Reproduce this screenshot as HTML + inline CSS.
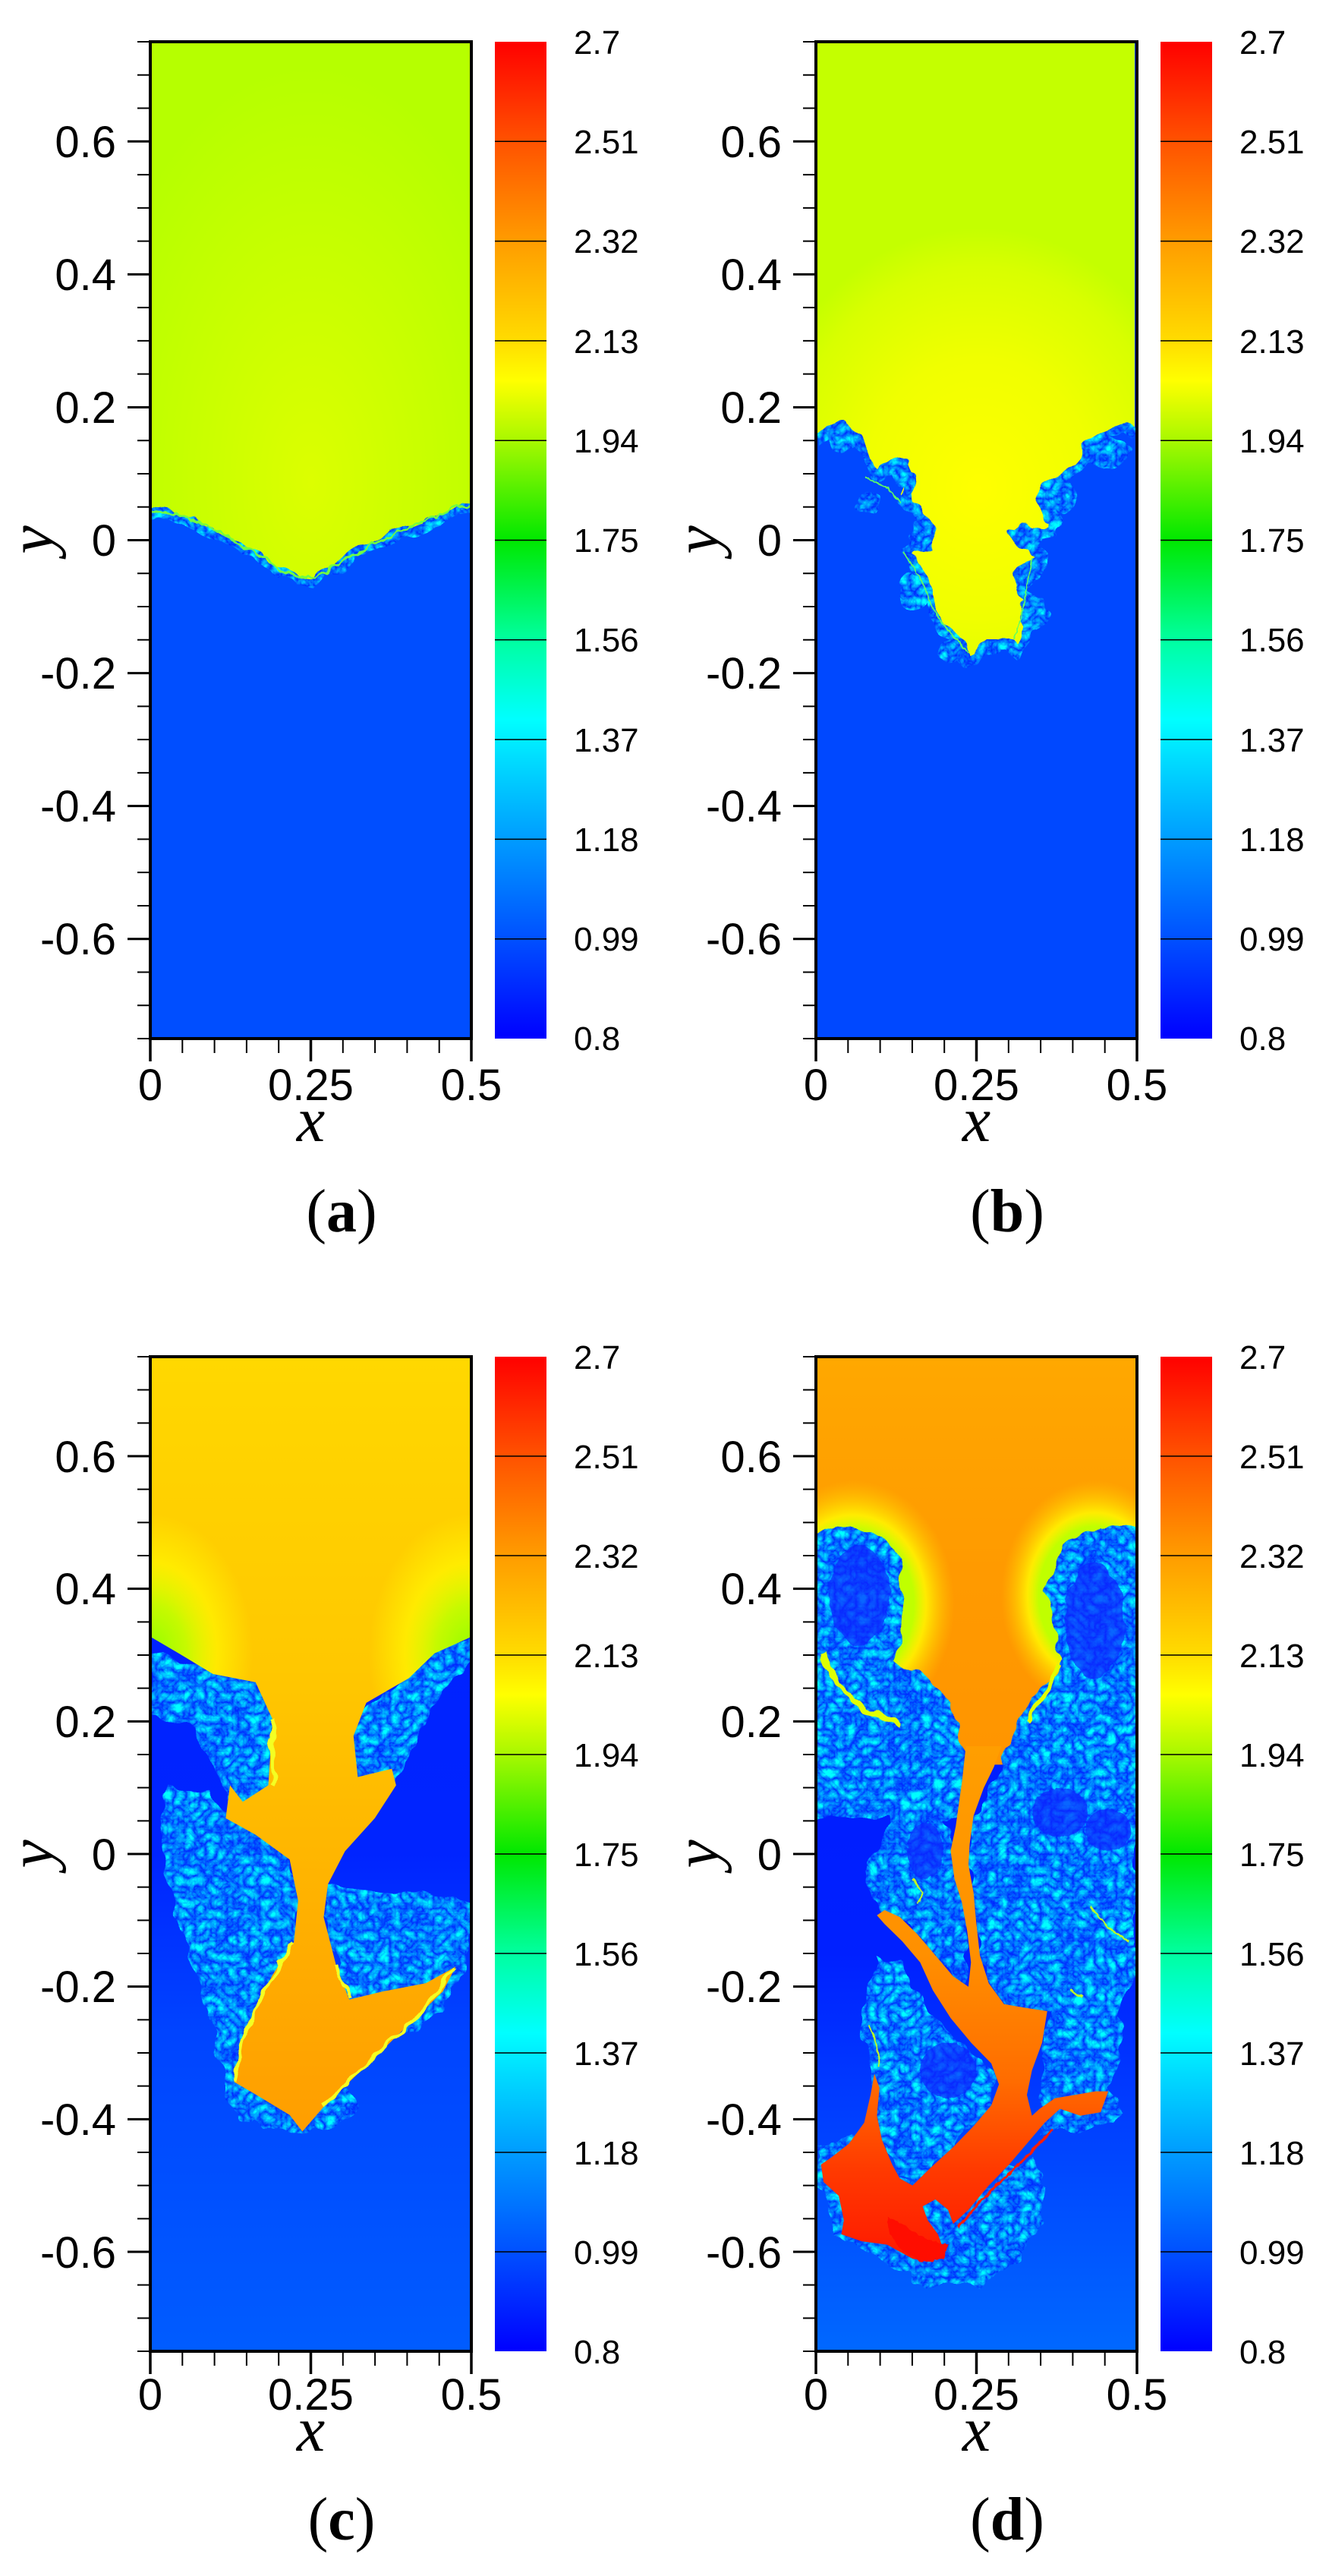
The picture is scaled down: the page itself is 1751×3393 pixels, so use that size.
<!DOCTYPE html>
<html><head><meta charset="utf-8"><style>
html,body{margin:0;padding:0;background:#fff}
svg{display:block}
text{font-family:"Liberation Sans",sans-serif;fill:#000}
.tk{font-size:58px}
.cb{font-size:44px}
.ax{font-family:"Liberation Serif",serif;font-style:italic;font-size:84px}
.cap{font-family:"Liberation Serif",serif;font-size:80px}
</style></head><body>
<svg width="1751" height="3393" viewBox="0 0 1751 3393" xmlns="http://www.w3.org/2000/svg">
<defs>
<linearGradient id="cbg" x1="0" y1="0" x2="0" y2="1">
<stop offset="0" stop-color="#ff0000"/><stop offset="0.1" stop-color="#ff5200"/><stop offset="0.2" stop-color="#ff9c00"/><stop offset="0.3" stop-color="#ffdc00"/><stop offset="0.34" stop-color="#ffff00"/><stop offset="0.4" stop-color="#a8f800"/><stop offset="0.5" stop-color="#00e800"/><stop offset="0.6" stop-color="#00ffa0"/><stop offset="0.68" stop-color="#00ffff"/><stop offset="0.72" stop-color="#00dcff"/><stop offset="0.8" stop-color="#009cff"/><stop offset="0.9" stop-color="#0050ff"/><stop offset="1" stop-color="#0000ff"/>
</linearGradient>
<clipPath id="clA"><rect x="198" y="55" width="423" height="1313"/></clipPath>
<clipPath id="clB"><rect x="1075" y="55" width="423" height="1313"/></clipPath>
<clipPath id="clC"><rect x="198" y="1787" width="423" height="1310"/></clipPath>
<clipPath id="clD"><rect x="1075" y="1787" width="423" height="1310"/></clipPath>
<filter id="mix" filterUnits="userSpaceOnUse" x="0" y="0" width="1751" height="3393" color-interpolation-filters="sRGB">
<feTurbulence type="fractalNoise" baseFrequency="0.035" numOctaves="2" seed="2" result="n"/>
<feDisplacementMap in="SourceGraphic" in2="n" scale="22" xChannelSelector="R" yChannelSelector="G" result="d"/>
<feTurbulence type="turbulence" baseFrequency="0.07" numOctaves="3" seed="5" result="t"/>
<feColorMatrix in="t" type="matrix" values="0 0 0 0 0  1.3 0 0 0 0.12  0 0 0 0 1  0 0 0 0 1" result="c"/>
<feComposite in="c" in2="d" operator="in"/>
</filter>
<filter id="rough" filterUnits="userSpaceOnUse" x="0" y="0" width="1751" height="3393">
<feTurbulence type="fractalNoise" baseFrequency="0.05" numOctaves="2" seed="9" result="n"/>
<feDisplacementMap in="SourceGraphic" in2="n" scale="12" xChannelSelector="R" yChannelSelector="G"/>
</filter>
<radialGradient id="gA" gradientUnits="userSpaceOnUse" cx="710" cy="600" r="520"><stop offset="0" stop-color="#dcff00"/><stop offset="1" stop-color="#b6ff00"/></radialGradient>
<radialGradient id="gB" gradientUnits="userSpaceOnUse" cx="690" cy="900" r="900"><stop offset="0" stop-color="#ffff00"/><stop offset="0.5" stop-color="#f0ff00"/><stop offset="0.85" stop-color="#d8ff00"/><stop offset="1" stop-color="#c4ff00"/></radialGradient>
<linearGradient id="gC" gradientUnits="userSpaceOnUse" x1="0" y1="80" x2="0" y2="1020"><stop offset="0" stop-color="#ffd800"/><stop offset="0.4" stop-color="#ffc800"/><stop offset="0.75" stop-color="#ffae00"/><stop offset="1" stop-color="#ff9e00"/></linearGradient>
<radialGradient id="hC" gradientUnits="userSpaceOnUse" cx="0" cy="0" r="1"><stop offset="0" stop-color="#90ff00"/><stop offset="0.35" stop-color="#c0ff00" stop-opacity="0.9"/><stop offset="0.65" stop-color="#ffff00" stop-opacity="0.6"/><stop offset="1" stop-color="#ffff00" stop-opacity="0"/></radialGradient>
<linearGradient id="gD" gradientUnits="userSpaceOnUse" x1="0" y1="80" x2="0" y2="600"><stop offset="0" stop-color="#ffa800"/><stop offset="0.5" stop-color="#ff9a00"/><stop offset="1" stop-color="#ff9400"/></linearGradient>
<radialGradient id="hD" gradientUnits="userSpaceOnUse" cx="0" cy="0" r="1"><stop offset="0.6" stop-color="#c0ff00"/><stop offset="0.72" stop-color="#ffff00" stop-opacity="0.8"/><stop offset="1" stop-color="#ffd000" stop-opacity="0"/></radialGradient>
<linearGradient id="gD2" gradientUnits="userSpaceOnUse" x1="0" y1="0" x2="0" y2="1480"><stop offset="0" stop-color="#ff9e00"/><stop offset="0.4" stop-color="#ff9000"/><stop offset="0.65" stop-color="#ff6c00"/><stop offset="0.82" stop-color="#ff3a00"/><stop offset="1" stop-color="#ff1800"/></linearGradient>
<linearGradient id="bgC" gradientUnits="userSpaceOnUse" x1="0" y1="1787" x2="0" y2="3097"><stop offset="0" stop-color="#0020ff"/><stop offset="0.5" stop-color="#0024ff"/><stop offset="0.68" stop-color="#0044ff"/><stop offset="1" stop-color="#005cff"/></linearGradient>
<linearGradient id="bgD" gradientUnits="userSpaceOnUse" x1="0" y1="1787" x2="0" y2="3097"><stop offset="0" stop-color="#0018ff"/><stop offset="0.6" stop-color="#0020ff"/><stop offset="0.8" stop-color="#0045ff"/><stop offset="1" stop-color="#0068ff"/></linearGradient>

<g id="axAB" fill="none" stroke="#000">
<path stroke-width="2" d="M-17,0h17m-17,43.767h17m-17,43.767h17m-17,43.767h17m-17,43.767h17m-17,43.767h17m-17,43.767h17m-17,43.767h17m-17,43.767h17m-17,43.767h17m-17,43.767h17m-17,43.767h17m-17,43.767h17m-17,43.767h17m-17,43.767h17m-17,43.767h17m-17,43.767h17m-17,43.767h17m-17,43.767h17m-17,43.767h17m-17,43.767h17m-17,43.767h17m-17,43.767h17m-17,43.767h17m-17,43.767h17m-17,43.767h17m-17,43.767h17m-17,43.767h17m-17,43.767h17m-17,43.767h17m-17,43.767h17"/>
<path stroke-width="3" d="M-30,131.3h30m-30,175.07h30m-30,175.07h30m-30,175.07h30m-30,175.07h30m-30,175.07h30m-30,175.07h30"/>
<path stroke-width="2" d="M0,1313v19m42.3,-19v19m42.3,-19v19m42.3,-19v19m42.3,-19v19m42.3,-19v19m42.3,-19v19m42.3,-19v19m42.3,-19v19m42.3,-19v19m42.3,-19v19"/>
<path stroke-width="3.5" d="M0,1313v30M211.5,1313v30M423,1313v30"/>
<rect x="0" y="0" width="423" height="1313" stroke-width="4"/>
<rect x="454" y="0" width="68" height="1313" fill="url(#cbg)" stroke="none"/>
<path stroke-width="1.5" d="M454,131.3h68m-68,131.3h68m-68,131.3h68m-68,131.3h68m-68,131.3h68m-68,131.3h68m-68,131.3h68m-68,131.3h68m-68,131.3h68"/>
</g>
<g id="axCD" fill="none" stroke="#000">
<path stroke-width="2" d="M-17,0h17m-17,43.667h17m-17,43.667h17m-17,43.667h17m-17,43.667h17m-17,43.667h17m-17,43.667h17m-17,43.667h17m-17,43.667h17m-17,43.667h17m-17,43.667h17m-17,43.667h17m-17,43.667h17m-17,43.667h17m-17,43.667h17m-17,43.667h17m-17,43.667h17m-17,43.667h17m-17,43.667h17m-17,43.667h17m-17,43.667h17m-17,43.667h17m-17,43.667h17m-17,43.667h17m-17,43.667h17m-17,43.667h17m-17,43.667h17m-17,43.667h17m-17,43.667h17m-17,43.667h17m-17,43.667h17"/>
<path stroke-width="3" d="M-30,131h30m-30,174.67h30m-30,174.67h30m-30,174.67h30m-30,174.67h30m-30,174.67h30m-30,174.67h30"/>
<path stroke-width="2" d="M0,1310v19m42.3,-19v19m42.3,-19v19m42.3,-19v19m42.3,-19v19m42.3,-19v19m42.3,-19v19m42.3,-19v19m42.3,-19v19m42.3,-19v19m42.3,-19v19"/>
<path stroke-width="3.5" d="M0,1310v30M211.5,1310v30M423,1310v30"/>
<rect x="0" y="0" width="423" height="1310" stroke-width="4"/>
<rect x="454" y="0" width="68" height="1310" fill="url(#cbg)" stroke="none"/>
<path stroke-width="1.5" d="M454,131h68m-68,131h68m-68,131h68m-68,131h68m-68,131h68m-68,131h68m-68,131h68m-68,131h68m-68,131h68"/>
</g>
</defs>
<rect width="1751" height="3393" fill="#fff"/>

<!-- ============ PANEL A ============ -->
<g clip-path="url(#clA)">
<rect x="198" y="55" width="423" height="1313" fill="#004eff"/>
<g transform="scale(0.5769,1.0577)">
<path fill="url(#gA)" d="M343,52H1077V630L1050,632L1000,645L950,655L900,668L850,680L800,695L760,708L720,722L680,720L640,712L600,695L560,685L520,670L480,658L440,650L400,642L343,640Z"/>
</g>
<g filter="url(#mix)"><g transform="scale(0.5769,1.0577)">
<path fill="none" stroke="#000" stroke-width="13" d="M343,642L400,644L440,652L480,660L520,672L560,687L600,697L640,714L680,722L720,724L760,710L800,697L850,682L900,670L950,657L1000,647L1050,634L1077,632"/>
</g></g>
<g transform="scale(0.5769,1.0577)" filter="url(#rough)">
<path fill="none" stroke="#70ff40" stroke-width="3" d="M343,636L400,640L440,648L480,656L520,668L560,682L600,693L640,710L680,718L720,720L760,706L800,693L850,678L900,666L950,653L1000,643L1050,630L1077,628"/>
</g>
</g>
<g transform="translate(198,55)">
<use href="#axAB"/>
<g class="tk" text-anchor="end"><text x="-45" y="152">0.6</text><text x="-45" y="327">0.4</text><text x="-45" y="502">0.2</text><text x="-45" y="677">0</text><text x="-45" y="852">-0.2</text><text x="-45" y="1027">-0.4</text><text x="-45" y="1202">-0.6</text></g>
<g class="tk" text-anchor="middle"><text x="0" y="1394">0</text><text x="211.5" y="1394">0.25</text><text x="423" y="1394">0.5</text></g>
<g class="cb"><text x="558" y="16">2.7</text><text x="558" y="147">2.51</text><text x="558" y="278">2.32</text><text x="558" y="410">2.13</text><text x="558" y="541">1.94</text><text x="558" y="672">1.75</text><text x="558" y="803">1.56</text><text x="558" y="935">1.37</text><text x="558" y="1066">1.18</text><text x="558" y="1197">0.99</text><text x="558" y="1328">0.8</text></g>
<text class="ax" x="211.5" y="1448" text-anchor="middle">x</text>
<text class="ax" transform="translate(-129,656) rotate(-90)" text-anchor="middle">y</text>
<text class="cap" x="252" y="1567" text-anchor="middle">(<tspan font-weight="bold">a</tspan>)</text>
</g>

<!-- ============ PANEL B ============ -->
<g clip-path="url(#clB)">
<rect x="1075" y="55" width="423" height="1313" fill="#0048ff"/>
<g transform="translate(1060,300) scale(0.3333,0.3817)">
<path fill="url(#gB)" d="M45,-642H1305V690L1260,680L1200,700L1140,740L1100,790L1040,850L990,880L950,900L920,940L940,980L990,1010L980,1040L900,1040L850,1030L820,1050L830,1080L880,1100L930,1130L920,1160L860,1170L830,1200L850,1240L900,1270L920,1300L880,1350L860,1420L840,1460L800,1430L760,1420L720,1420L690,1440L680,1480L650,1490L620,1460L580,1420L540,1380L500,1330L480,1260L450,1210L420,1160L400,1120L430,1090L480,1090L490,1040L450,990L410,960L380,920L400,880L420,840L400,800L360,800L320,830L300,850L260,820L240,780L200,720L150,690L100,690L45,720Z"/>
</g>
<g filter="url(#mix)"><g transform="translate(1060,300) scale(0.3333,0.3817)">
<path fill="none" stroke="#000" stroke-width="40" stroke-linejoin="round" d="M45,730L100,700L150,700L200,730L240,790L260,830L300,860L320,840L360,810L400,810L420,850L400,890L390,920L420,960L460,990L495,1040L480,1100L430,1100L410,1120L430,1160L460,1210L490,1260L510,1330L550,1380L590,1420L630,1460L650,1500L690,1490L700,1450L730,1430L760,1430L800,1440L840,1470L870,1420L890,1350L930,1300L910,1270L860,1240L840,1200L870,1180L930,1170L940,1130L890,1100L840,1080L830,1050L860,1040L900,1050L990,1050L1000,1010L950,980L930,940L960,905L1000,885L1050,855L1110,795L1150,745L1210,705L1260,690L1305,700"/>
<g fill="#000"><ellipse cx="150" cy="730" rx="60" ry="45"/><ellipse cx="380" cy="840" rx="40" ry="50"/><ellipse cx="460" cy="1050" rx="45" ry="50"/><ellipse cx="250" cy="950" rx="55" ry="35"/><ellipse cx="880" cy="1070" rx="60" ry="35"/><ellipse cx="880" cy="1195" rx="55" ry="35"/><ellipse cx="1010" cy="935" rx="80" ry="50"/><ellipse cx="1190" cy="770" rx="100" ry="45"/><ellipse cx="430" cy="1260" rx="50" ry="70"/><ellipse cx="900" cy="1330" rx="50" ry="60"/><ellipse cx="590" cy="1450" rx="50" ry="40"/><ellipse cx="740" cy="1450" rx="40" ry="30"/></g>
</g></g>
<g transform="translate(1060,300) scale(0.3333,0.3817)" filter="url(#rough)" fill="none" stroke="#60ff60" stroke-width="5">
<path d="M390,1120L430,1170L470,1230L500,1300L540,1360L600,1420L650,1470"/><path d="M900,1140L880,1230L860,1330L830,1420"/><path d="M240,860L330,900L380,950"/>
</g>
</g>
<g transform="translate(1075,55)">
<use href="#axAB"/>
<g class="tk" text-anchor="end"><text x="-45" y="152">0.6</text><text x="-45" y="327">0.4</text><text x="-45" y="502">0.2</text><text x="-45" y="677">0</text><text x="-45" y="852">-0.2</text><text x="-45" y="1027">-0.4</text><text x="-45" y="1202">-0.6</text></g>
<g class="tk" text-anchor="middle"><text x="0" y="1394">0</text><text x="211.5" y="1394">0.25</text><text x="423" y="1394">0.5</text></g>
<g class="cb"><text x="558" y="16">2.7</text><text x="558" y="147">2.51</text><text x="558" y="278">2.32</text><text x="558" y="410">2.13</text><text x="558" y="541">1.94</text><text x="558" y="672">1.75</text><text x="558" y="803">1.56</text><text x="558" y="935">1.37</text><text x="558" y="1066">1.18</text><text x="558" y="1197">0.99</text><text x="558" y="1328">0.8</text></g>
<text class="ax" x="211.5" y="1448" text-anchor="middle">x</text>
<text class="ax" transform="translate(-129,656) rotate(-90)" text-anchor="middle">y</text>
<text class="cap" x="252" y="1567" text-anchor="middle">(<tspan font-weight="bold">b</tspan>)</text>
</g>

<!-- ============ PANEL C ============ -->
<clipPath id="orC"><path transform="translate(0,1700) scale(1.1223,1.0858)" d="M177,80H553V420L510,440L480,470L430,500L415,540L420,590L460,580L465,600L440,640L405,680L385,720L380,760L395,820L410,860L450,850L500,840L535,820L520,850L490,880L450,920L410,960L380,990L355,1020L340,1000L300,975L275,960L285,910L300,870L320,830L345,790L350,740L340,690L300,660L265,640L270,600L285,620L315,600L320,520L300,475L250,465L210,440L177,420Z"/></clipPath>
<g clip-path="url(#clC)">
<rect x="198" y="1787" width="423" height="1310" fill="url(#bgC)"/>
<g filter="url(#mix)"><g transform="translate(0,1700) scale(1.1223,1.0858)" fill="#000">
<path d="M177,440L210,445L250,460L300,470L322,520L320,600L300,628L270,625L258,590L245,560L225,530L200,520L177,515Z"/>
<path d="M553,420L520,430L490,450L470,480L430,500L412,540L418,595L440,610L465,595L482,560L500,520L520,485L553,450Z"/>
<path d="M195,598L240,612L290,648L332,680L352,720L352,800L322,842L302,882L292,930L288,962L275,980L258,942L248,880L232,830L212,780L198,720L188,660Z"/>
<path d="M378,718L420,728L450,732L500,732L553,745L553,785L540,832L520,872L480,895L440,912L408,902L398,860L392,810L383,770Z"/>
<ellipse cx="350" cy="985" rx="70" ry="35"/>
<ellipse cx="290" cy="960" rx="25" ry="50"/>
</g></g>
<g clip-path="url(#orC)">
<g transform="translate(0,1700) scale(1.1223,1.0858)">
<rect x="177" y="80" width="376" height="960" fill="url(#gC)"/>
<g transform="translate(177,440) scale(120,170)"><circle r="1" fill="url(#hC)"/></g>
<g transform="translate(553,440) scale(120,170)"><circle r="1" fill="url(#hC)"/></g>
</g>
</g>
<g transform="translate(0,1700) scale(1.1223,1.0858)" filter="url(#rough)" fill="none" stroke="#f4ff20" stroke-width="4">
<path d="M320,520L320,600M345,790L320,830L300,870L285,910L275,960M395,820L410,860M535,820L490,880L450,920L410,960L380,990"/>
</g>
</g>
<g transform="translate(198,1787)">
<use href="#axCD"/>
<g class="tk" text-anchor="end"><text x="-45" y="152">0.6</text><text x="-45" y="326">0.4</text><text x="-45" y="501">0.2</text><text x="-45" y="676">0</text><text x="-45" y="850">-0.2</text><text x="-45" y="1025">-0.4</text><text x="-45" y="1200">-0.6</text></g>
<g class="tk" text-anchor="middle"><text x="0" y="1387">0</text><text x="211.5" y="1387">0.25</text><text x="423" y="1387">0.5</text></g>
<g class="cb"><text x="558" y="16">2.7</text><text x="558" y="147">2.51</text><text x="558" y="278">2.32</text><text x="558" y="409">2.13</text><text x="558" y="540">1.94</text><text x="558" y="671">1.75</text><text x="558" y="802">1.56</text><text x="558" y="933">1.37</text><text x="558" y="1064">1.18</text><text x="558" y="1195">0.99</text><text x="558" y="1326">0.8</text></g>
<text class="ax" x="211.5" y="1441" text-anchor="middle">x</text>
<text class="ax" transform="translate(-129,655) rotate(-90)" text-anchor="middle">y</text>
<text class="cap" x="252" y="1558" text-anchor="middle">(<tspan font-weight="bold">c</tspan>)</text>
</g>

<!-- ============ PANEL D ============ -->
<g clip-path="url(#clD)">
<rect x="1075" y="1787" width="423" height="1310" fill="url(#bgD)"/>
<g transform="translate(0,1700) scale(1.118,1.0858)">
<rect x="950" y="75" width="400" height="500" fill="url(#gD)"/>
<g transform="translate(1005,380) scale(120,150)"><circle r="1" fill="url(#hD)"/></g>
<g transform="translate(1290,370) scale(110,140)"><circle r="1" fill="url(#hD)"/></g>
</g>
<g filter="url(#mix)">
<g transform="translate(0,1700) scale(1.118,1.0858)" fill="#000">
<path d="M955,292L1000,283L1040,295L1062,330L1065,400L1050,445L1075,462L1110,482L1130,530L1140,580L1142,640L955,640Z"/>
<path d="M1345,292L1290,285L1250,310L1232,370L1245,430L1255,447L1210,500L1182,560L1165,640L1345,640Z"/>
</g>
<g transform="translate(1075,2300) scale(0.3349,0.4592)" fill="#000">
<path d="M100,20L300,80L450,150L530,250L560,330L590,500L600,690L540,660L400,540L330,490L250,470L200,400L180,360L260,280L300,220L200,150L100,100Z"/>
<path d="M600,220L700,100L850,20L1000,40L1260,20L1260,660L1200,720L1200,850L1180,950L1140,1010L960,1020L880,1010L900,850L910,760L820,750L740,740L680,680L645,600L620,420L600,340Z"/>
<path d="M240,600L330,620L400,700L470,780L560,850L650,900L705,960L690,1040L600,1110L500,1180L400,1250L330,1240L280,1160L240,1060L225,940L180,800L200,700Z"/>
<path d="M280,1230L400,1260L470,1290L540,1350L620,1290L720,1230L860,1180L900,1270L870,1400L800,1480L640,1540L440,1550L300,1490L180,1440L80,1410L40,1300L0,1210L10,1150L120,1130L200,1080L250,1150Z"/>
<path d="M880,1020L960,1000L1060,990L1160,980L1200,1040L1160,1080L1050,1100L950,1090L880,1120Z"/>
<path d="M0,80L80,90L120,140L90,200L0,210Z"/>
</g>
</g>
<g transform="translate(1075,2300) scale(0.3349,0.4592)" filter="url(#rough)" fill="#0a28ff" opacity="0.7">
<ellipse cx="960" cy="190" rx="110" ry="70"/><ellipse cx="1150" cy="240" rx="90" ry="60"/><ellipse cx="430" cy="300" rx="70" ry="80"/><ellipse cx="520" cy="930" rx="110" ry="80"/>
</g>
<g transform="translate(0,1700) scale(1.118,1.0858)" filter="url(#rough)" fill="#0a28ff" opacity="0.7">
<ellipse cx="1012" cy="370" rx="35" ry="60"/><ellipse cx="1290" cy="400" rx="35" ry="70"/>
</g>
<g transform="translate(0,1700) scale(1.118,1.0858)" filter="url(#rough)" fill="none" stroke="#e0ff00" stroke-width="6">
<path d="M968,440L990,480L1020,510L1060,525"/><path d="M1250,455L1230,490L1210,520"/>
</g>
<g transform="translate(1075,2300) scale(0.3349,0.4592)">
<path fill="url(#gD2)" d="M590,0L575,100L550,230L530,300L545,380L575,450L595,530L610,620L600,690L540,660L470,600L400,540L330,490L270,470L240,485L270,510L340,560L410,620L460,700L530,780L610,850L690,910L720,970L690,1030L620,1090L540,1150L450,1210L380,1260L330,1240L300,1200L260,1130L240,1060L250,980L230,940L215,1000L190,1080L130,1140L60,1180L20,1200L30,1250L90,1290L110,1360L100,1400L180,1420L280,1430L380,1470L460,1480L500,1440L480,1400L440,1360L420,1320L470,1300L520,1330L540,1370L600,1330L680,1260L760,1200L830,1140L900,1080L960,1040L1040,1060L1120,1050L1150,990L1100,990L1020,1000L940,1010L880,1040L850,1060L830,1000L850,930L890,850L910,760L820,750L740,740L680,680L645,600L630,500L620,420L600,340L605,280L620,200L660,120L700,60L730,0Z"/>
<path fill="#ff1000" filter="url(#rough)" d="M280,1350L340,1370L400,1400L460,1420L520,1430L500,1470L420,1480L340,1450L290,1400Z"/>
<path fill="none" stroke="#ff1a00" stroke-width="8" filter="url(#rough)" d="M560,1380L640,1310L740,1240L840,1170L930,1100"/>
</g>
<g transform="translate(1075,2300) scale(0.3349,0.4592)" filter="url(#rough)" fill="none" stroke="#c0ff20" stroke-width="6">
<path d="M380,380L420,420L400,450"/><path d="M1080,460L1150,520L1230,560"/><path d="M210,800L240,860L250,920"/><path d="M1050,720L1000,700"/>
</g>
</g>
<g transform="translate(1075,1787)">
<use href="#axCD"/>
<g class="tk" text-anchor="end"><text x="-45" y="152">0.6</text><text x="-45" y="326">0.4</text><text x="-45" y="501">0.2</text><text x="-45" y="676">0</text><text x="-45" y="850">-0.2</text><text x="-45" y="1025">-0.4</text><text x="-45" y="1200">-0.6</text></g>
<g class="tk" text-anchor="middle"><text x="0" y="1387">0</text><text x="211.5" y="1387">0.25</text><text x="423" y="1387">0.5</text></g>
<g class="cb"><text x="558" y="16">2.7</text><text x="558" y="147">2.51</text><text x="558" y="278">2.32</text><text x="558" y="409">2.13</text><text x="558" y="540">1.94</text><text x="558" y="671">1.75</text><text x="558" y="802">1.56</text><text x="558" y="933">1.37</text><text x="558" y="1064">1.18</text><text x="558" y="1195">0.99</text><text x="558" y="1326">0.8</text></g>
<text class="ax" x="211.5" y="1441" text-anchor="middle">x</text>
<text class="ax" transform="translate(-129,655) rotate(-90)" text-anchor="middle">y</text>
<text class="cap" x="252" y="1558" text-anchor="middle">(<tspan font-weight="bold">d</tspan>)</text>
</g>
</svg>
</body></html>
